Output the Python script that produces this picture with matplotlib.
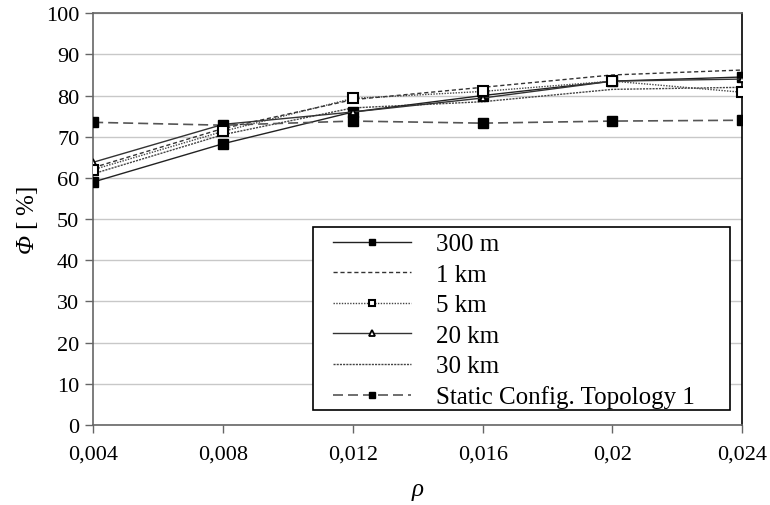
import matplotlib
matplotlib.use("Agg")
import matplotlib.pyplot as plt
from matplotlib.patches import Rectangle

plt.rcParams['font.family'] = ['Liberation Serif', 'DejaVu Serif']
plt.rcParams['mathtext.fontset'] = 'custom'
plt.rcParams['mathtext.it'] = 'Liberation Serif:italic'
plt.rcParams['mathtext.rm'] = 'Liberation Serif:italic'

rho = [0.004, 0.008, 0.012, 0.016, 0.02, 0.024]
tick_labels = ["0,004", "0,008", "0,012", "0,016", "0,02", "0,024"]

s_300m = [59.0, 68.3, 76.0, 80.0, 83.5, 84.5]
s_1km = [62.5, 72.0, 79.0, 82.0, 85.0, 86.2]
s_5km = [62.0, 71.3, 79.3, 81.0, 83.5, 80.8]
s_20km = [63.8, 73.0, 76.0, 79.4, 83.5, 84.0]
s_30km = [61.0, 70.5, 77.0, 78.5, 81.5, 82.0]
s_static = [73.5, 72.8, 73.8, 73.3, 73.8, 74.0]

fig = plt.figure(figsize=(7.7, 5.06), dpi=100)
ax = fig.add_axes([0.121, 0.158, 0.843, 0.814])

ax.plot(rho, s_300m, color='#222222', lw=1.0, ls='-', marker='s', ms=6.5,
        mfc='black', mec='black', label='300 m', zorder=4)
ax.plot(rho, s_1km, color='#333333', lw=1.0, ls=(0, (3, 2)), label='1 km', zorder=3)
ax.plot(rho, s_5km, color='#444444', lw=1.0, ls=(0, (1, 1)), marker='s', ms=6.5,
        mfc='white', mec='black', mew=1.5, label='5 km', zorder=5)
ax.plot(rho, s_20km, color='#333333', lw=1.0, ls='-', marker='^', ms=5,
        mfc='white', mec='black', mew=1.3, label='20 km', zorder=4)
ax.plot(rho, s_30km, color='#444444', lw=1.0, ls=(0, (1.5, 0.8)), label='30 km', zorder=3)
ax.plot(rho, s_static, color='#555555', lw=1.2, ls=(0, (6, 3)), marker='s', ms=6.5,
        mfc='black', mec='black', label='Static Config. Topology 1', zorder=4)

ax.set_xlim(0.004, 0.024)
ax.set_ylim(0, 100)
ax.set_xticks(rho)
ax.set_xticklabels(tick_labels)
ax.set_yticks(range(0, 101, 10))
ax.yaxis.grid(True, color='#c8c8c8', lw=1.0)
ax.set_axisbelow(True)

for side in ['left', 'top', 'bottom']:
    ax.spines[side].set_color('#666666')
    ax.spines[side].set_linewidth(1.2)
ax.spines['right'].set_color('black')
ax.spines['right'].set_linewidth(1.2)

ax.tick_params(axis='both', direction='out', length=6, width=1.0, color='#666666',
               labelsize=16, pad=4)
ax.tick_params(axis='x', pad=8)

ax.set_ylabel(r'$\Phi$ [ %]', fontsize=18, labelpad=4)
ax.set_xlabel(r'$\rho$', fontsize=18, labelpad=12)

# legend frame drawn as a rectangle in axes coordinates
box = Rectangle((0.339, 0.036), 0.981 - 0.339, 0.481 - 0.036, transform=ax.transAxes,
                facecolor='white', edgecolor='black', lw=1.2, zorder=6)
ax.add_patch(box)

leg = ax.legend(loc='center left', fontsize=18, frameon=False,
                handlelength=3.1, labelspacing=0.32, markerscale=0.75,
                borderpad=0, borderaxespad=0, handletextpad=1.0,
                bbox_to_anchor=(0.370, 0.2536))
leg.set_zorder(7)

fig.savefig('out.png', dpi=100)
